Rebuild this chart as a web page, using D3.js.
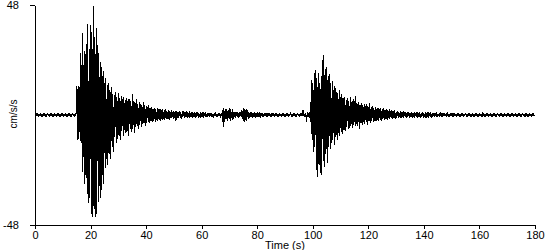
<!DOCTYPE html>
<html lang="en">
<head>
    <meta charset="utf-8">
    <title>Accelerogram</title>
    <script src="https://d3js.org/d3.v7.min.js" charset="utf-8"></script>
    <style>
        body { margin: 0; background: #fff; }
        text { font-family: "Liberation Sans", Arial, sans-serif; }
    </style>
</head>
<body>

    <script>

    // sampled every 0.5 s from t = 0, peak (upper) and trough (lower) of each sample, cm/s/s
    var sampleStep = 0.5
    var upper = [
        0.4,0.4,0.4,0.4,0.4,0.4,0.4,0.4,0.4,0.4,
        0.4,0.4,0.4,0.4,0.4,0.4,0.4,0.4,0.4,0.4,
        0.4,0.4,0.4,0.4,0.4,0.4,0.4,0.4,0.4,0.4,
        12.5,12.7,12.0,27,35.8,22,28,31,39.7,29,
        39.3,36,47.6,34,38,30.5,27,23,21,19,
        14,16,13,14,11,12,9,8.7,10,8,
        9.6,7.5,8.5,7,8,6.5,7.5,6.8,7,6,
        9.2,6,5.5,7,5,5.7,4.8,4.5,5.7,4.4,
        4,3.5,4.4,3,3.6,2.8,3.2,2.5,3,2.6,
        2.8,2.2,2.6,2,2.4,1.8,2.2,1.6,2,1.5,
        1.9,1.6,1.8,1.4,1.9,1.2,1.6,1.9,1.3,1.5,
        1.2,1.6,1.0,1.3,0.9,1.3,1.1,1.3,0.8,1.2,
        1.0,1.3,0.8,1.1,0.7,1.0,0.8,0.9,0.6,0.7,
        0.5,0.4,0.5,0.4,0.6,2.2,3,2.4,2.8,2.2,
        3,2.4,2.6,1.5,1.2,1.5,1.1,1.4,1.2,2.2,
        3,2.4,2.8,2.2,1.3,1.1,1.3,1.0,1.2,0.9,
        1.3,1.0,1.1,0.8,1.0,0.7,0.9,0.8,0.7,0.8,
        0.6,0.7,0.5,0.6,0.4,0.5,0.4,0.4,0.5,0.4,
        0.4,0.4,0.4,0.4,0.7,0.4,0.4,0.4,0.4,0.4,
        0.4,0.4,0.5,2.2,0.6,1.0,1.4,1.0,1.3,15.3,
        14,18.5,19.6,16,18.3,14,17,24,26.2,20,
        21,17,18,14,15,11,12.5,10,9.6,11,
        8,9,7.4,8,6.5,7.5,6,8,5.7,7,
        6,8.3,5,5.7,4.4,5.2,4.2,5,3.8,4.6,
        3.6,5.2,3.5,3.8,3,3.4,2.8,3.2,2.6,3,
        2.4,2.9,2.2,2.6,2,2.4,1.8,2.2,1.6,2,
        1.5,1.9,1.4,1.7,1.2,1.6,1.3,1.5,1.1,1.4,
        1.0,1.3,0.9,1.2,1.0,1.4,0.8,1.2,0.9,1.3,
        0.8,1.4,0.9,1.2,0.7,1.1,0.8,1.0,0.7,1.1,
        0.6,0.9,0.5,0.8,0.6,0.7,0.5,0.6,0.4,0.5,
        0.4,0.8,0.4,0.4,0.4,0.9,0.4,0.4,0.4,0.4,
        0.7,0.4,0.4,0.4,0.4,0.8,0.4,0.4,0.4,0.4,
        0.4,0.4,0.7,0.4,0.4,0.4,0.4,0.4,0.4,0.4,
        0.4,0.4,0.4,0.4,0.4,0.4,0.4,0.4,0.4,0.4,
        0.4,0.4,0.4,0.4,0.4,0.4,0.4,0.4,0.4,0.4,
        0.4,0.4,0.4,0.8,0.4,0.4,0.4,0.4,0.4,0.4
    ]
    var lower = [
        -0.4,-0.4,-0.4,-0.4,-0.4,-0.4,-0.4,-0.4,-0.4,-0.4,
        -0.4,-0.4,-0.4,-0.4,-0.4,-0.4,-0.4,-0.4,-0.4,-0.4,
        -0.4,-0.4,-0.4,-0.4,-0.4,-0.4,-0.4,-0.4,-0.4,-0.4,
        -11,-10.5,-11.2,-12,-25,-30,-26,-34.5,-38.5,-36,
        -43,-44.5,-41,-44.5,-43,-38,-31,-36,-26,-30,
        -23,-19,-22,-17,-19,-14,-16,-9.6,-12,-10.5,
        -9,-11,-7,-9,-6.5,-8,-7,-9,-6,-7.5,
        -6,-8,-5.2,-5,-6,-4.5,-5.2,-4,-3.5,-4.8,
        -3.5,-3,-3.5,-2.8,-3,-2.5,-3,-2.2,-2.6,-2,
        -2.4,-2,-1.8,-2.2,-1.7,-1.6,-2,-1.4,-1.5,-1.8,
        -1.3,-2.5,-1.2,-1.5,-1.2,-1.9,-1.0,-1.4,-0.8,-1.3,
        -1.0,-1.3,-0.8,-1.2,-1.0,-1.3,-0.7,-1.1,-0.9,-1.2,
        -0.8,-1.1,-0.7,-1.0,-0.8,-0.9,-0.6,-0.8,-0.5,-0.6,
        -0.4,-0.5,-0.4,-0.5,-0.4,-5.1,-2.9,-1.8,-2.4,-1.3,
        -2.6,-1.5,-2,-1,-1.2,-0.9,-1.1,-0.8,-1.0,-1.7,
        -2.9,-2,-2.5,-1.7,-1.3,-0.9,-1.2,-0.8,-1.1,-0.7,
        -1.0,-0.8,-1.1,-0.7,-0.9,-0.6,-0.8,-0.7,-0.6,-0.7,
        -0.5,-0.6,-0.4,-0.5,-0.4,-0.4,-0.4,-0.4,-0.4,-0.4,
        -0.4,-0.4,-0.4,-0.4,-0.4,-0.4,-0.4,-0.4,-0.4,-0.4,
        -0.4,-0.4,-0.6,-0.4,-1.0,-2.9,-1.0,-1.5,-2.9,-11,
        -16,-14,-24,-27,-22,-25.3,-26,-20,-22.7,-17,
        -21,-14,-15,-12,-11,-13,-9.6,-11,-8,-9,
        -7.4,-8.5,-6.5,-7,-5.2,-6,-5.5,-4.8,-5.7,-4.4,
        -5,-3.8,-4.6,-6.1,-3.5,-4.5,-3,-4,-3.2,-4.4,
        -2.8,-3.5,-2.6,-3,-2.4,-2.8,-2.2,-2.6,-2,-2.4,
        -1.8,-2.2,-1.6,-2,-1.5,-1.9,-1.4,-1.7,-1.2,-1.6,
        -1.1,-1.5,-1.0,-1.4,-0.9,-1.3,-1.0,-1.2,-0.9,-1.1,
        -0.9,-1.2,-0.8,-1.1,-0.9,-1.3,-0.8,-1.2,-0.7,-1.1,
        -0.8,-1.3,-0.7,-1.1,-0.8,-1.2,-0.7,-1.0,-0.6,-0.9,
        -0.6,-0.8,-0.5,-0.7,-0.5,-0.6,-0.4,-0.5,-0.4,-0.5,
        -0.4,-0.7,-0.4,-0.4,-0.4,-0.6,-0.4,-0.4,-0.4,-0.4,
        -0.6,-0.4,-0.4,-0.4,-0.4,-0.6,-0.4,-0.4,-0.4,-0.4,
        -0.4,-0.4,-0.5,-0.4,-0.4,-0.4,-0.4,-0.4,-0.4,-0.4,
        -0.4,-0.4,-0.4,-0.4,-0.4,-0.4,-0.4,-0.4,-0.4,-0.4,
        -0.4,-0.4,-0.4,-0.4,-0.4,-0.4,-0.4,-0.4,-0.4,-0.4,
        -0.4,-0.4,-0.4,-0.6,-0.4,-0.4,-0.4,-0.4,-0.4,-0.4
    ]
    var xTicks = [0, 20, 40, 60, 80, 100, 120, 140, 160, 180]
    var yTicks = [-48, 48]

    var w = 550
    var h = 250

    var x = d3.scaleLinear().domain([0, 180]).range([35, 535])
    var y = d3.scaleLinear().domain([-48, 48]).range([225, 5])

    var svg = d3.select("body").append("svg").attr("width", w).attr("height", h)

    // zigzag trace: each sample goes up to its peak then down to its trough
    var pts = []
    for (var i = 0; i < upper.length; i++) {
        pts.push([i * sampleStep, upper[i]])
        pts.push([i * sampleStep + sampleStep / 2, lower[i]])
    }

    var line = d3.line()
        .x(function (d) { return x(d[0]) })
        .y(function (d) { return y(d[1]) })

    svg.append("path").datum(pts).attr("d", line)
        .attr("fill", "none").attr("stroke", "black").attr("stroke-width", 1)
        .attr("shape-rendering", "crispEdges")

    var xAxis = svg.append("g").attr("transform", "translate(0,225)")
        .call(d3.axisBottom(x).tickValues(xTicks).tickSize(4).tickSizeOuter(0).tickPadding(2))
    var yAxis = svg.append("g").attr("transform", "translate(35,0)")
        .call(d3.axisLeft(y).tickValues(yTicks).tickSize(5).tickSizeOuter(0).tickPadding(11)
            .tickFormat(function (d) { return String(d) }))

    svg.selectAll(".domain, .tick line").attr("stroke", "black").attr("shape-rendering", "crispEdges")
    svg.selectAll(".tick text").attr("fill", "black").style("font-size", "11px")

    svg.append("text").attr("x", 285).attr("y", 249).attr("text-anchor", "middle")
        .style("font-size", "11px").text("Time (s)")
    svg.append("text").attr("transform", "translate(17,114) rotate(-90)").attr("text-anchor", "middle")
        .style("font-size", "10px").text("cm/s/s")

    </script>

</body>
</html>
